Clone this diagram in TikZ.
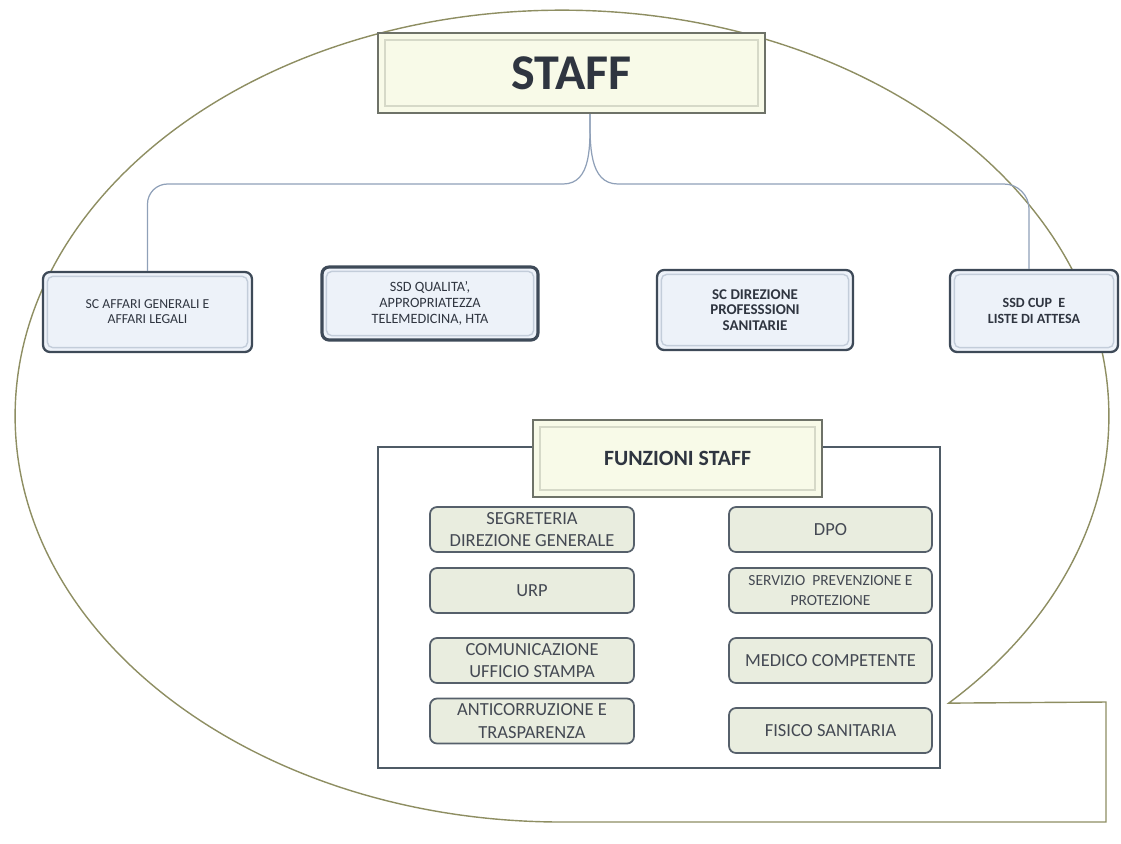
\documentclass[tikz,border=0pt]{standalone}
\usepackage{fontspec}
\setmainfont{Carlito}
\definecolor{balloon}{HTML}{8E8E62}
\definecolor{linkline}{HTML}{8FA0B8}
\definecolor{unitedge}{HTML}{3E4A58}
\definecolor{unitfill}{HTML}{EDF2F9}
\definecolor{unitinner}{HTML}{C3CDDA}
\definecolor{headfill}{HTML}{F8FAE8}
\definecolor{headedge}{HTML}{6E7268}
\definecolor{headinner}{HTML}{D6D9C8}
\definecolor{funcfill}{HTML}{E9EDDF}
\definecolor{funcedge}{HTML}{56606B}
\definecolor{frameedge}{HTML}{4F5B66}
\definecolor{textdark}{HTML}{2F3540}
\tikzset{
  headbox/.style={draw=headedge, line width=1.2pt, fill=headfill, inner sep=0pt,
    align=center, text=textdark,
    path picture={\draw[headinner, line width=0.8pt]
      ([shift={(4pt,-4pt)}]path picture bounding box.north west) rectangle
      ([shift={(-4pt,4pt)}]path picture bounding box.south east);}},
  unitbox/.style={draw=unitedge, line width=1.3pt, fill=unitfill, rounded corners=4pt,
    inner sep=0pt, align=center, text=textdark,
    font=\fontsize{7.8}{8.6}\selectfont,
    path picture={\draw[unitinner, line width=0.8pt, rounded corners=3pt]
      ([shift={(2.5pt,-2.5pt)}]path picture bounding box.north west) rectangle
      ([shift={(-2.5pt,2.5pt)}]path picture bounding box.south east);}},
  funcbox/.style={draw=funcedge, line width=1pt, fill=funcfill, rounded corners=4pt,
    minimum height=0.9cm, inner sep=0pt, align=center, text=textdark!90,
    font=\fontsize{10.5}{13}\selectfont},
  link/.style={draw=linkline, line width=0.7pt},
}
\begin{document}
\begin{tikzpicture}[x=0.02cm, y=-0.02cm]
      \useasboundingbox (0,0) rectangle (1121,843);
      %%%%%%%%%%%%%%%%%%%%%%%%%%%%%%%%%%%%%%%%%%%%%%%
      \draw[balloon, line width=0.8pt] (562,822)
            arc[start angle=270, end angle=-45, x radius=10.94cm, y radius=8.12cm]
            -- (1106,702) -- (1106,822) -- cycle;
      %%%%%%%%%%%%%%%%%%%%%%%%%%%%%%%%%%%%%%%%%%%%%%%
      \node[headbox, minimum width=7.74cm, minimum height=1.6cm,
            font=\fontsize{28.5}{30}\selectfont\bfseries] at (571.5,73) (staff) {STAFF};
      %%%%%%%%%%%%%%%%%%%%%%%%%%%%%%%%%%%%%%%%%%%%%%%
      \node[unitbox, minimum width=4.18cm, minimum height=1.6cm] at (147.5,312) (affari)
            {SC AFFARI GENERALI E\\AFFARI LEGALI};
      \node[unitbox, minimum width=4.32cm, minimum height=1.46cm, line width=1.8pt,
            font=\fontsize{8.1}{9}\selectfont] at (430,303.5) (qualita)
            {SSD QUALITA',\\APPROPRIATEZZA\\TELEMEDICINA, HTA};
      \node[unitbox, minimum width=3.92cm, minimum height=1.6cm,
            font=\fontsize{8.5}{9}\selectfont\bfseries] at (755,310) (direzione)
            {SC DIREZIONE\\PROFESSSIONI\\SANITARIE};
      \node[unitbox, minimum width=3.36cm, minimum height=1.64cm,
            font=\fontsize{8}{9}\selectfont\bfseries] at (1034,311) (cup)
            {SSD CUP\ \ E\\LISTE DI ATTESA};
      \draw[link] ([xshift=0.37cm]staff.south) to[out=-90,in=0] (563,184)
            [rounded corners=0.4cm] -| (affari.north);
      \draw[link] ([xshift=0.37cm]staff.south) to[out=-90,in=180] (618,184)
            [rounded corners=0.5cm] -| ([xshift=-0.1cm]cup.north);
      %%%%%%%%%%%%%%%%%%%%%%%%%%%%%%%%%%%%%%%%%%%%%%%
      \draw[frameedge, line width=1pt] (378,447) rectangle (940,768);
      \node[headbox, minimum width=5.78cm, minimum height=1.54cm,
            font=\fontsize{12.4}{13}\selectfont\bfseries] at (677.5,458.5) (funzioni) {FUNZIONI STAFF};
      %%%%%%%%%%%%%%%%%%%%%%%%%%%%%%%%%%%%%%%%%%%%%%%
      \node[funcbox, minimum width=4.08cm] at (532,529.5) (segreteria) {SEGRETERIA\\DIREZIONE GENERALE};
      \node[funcbox, minimum width=4.08cm] at (532,590.5) (urp) {URP};
      \node[funcbox, minimum width=4.08cm] at (532,660.5) (comunicazione) {COMUNICAZIONE\\UFFICIO STAMPA};
      \node[funcbox, minimum width=4.08cm] at (532,721) (anticorruzione) {ANTICORRUZIONE E\\TRASPARENZA};
      %%%%%%%%%%%%%%%%%%%%%%%%%%%%%%%%%%%%%%%%%%%%%%%
      \node[funcbox, minimum width=4.06cm] at (830.5,529.5) (dpo) {DPO};
      \node[funcbox, minimum width=4.06cm, font=\fontsize{8.8}{11.5}\selectfont] at (830.5,590.5) (prevenzione)
            {SERVIZIO\ \ PREVENZIONE E\\PROTEZIONE};
      \node[funcbox, minimum width=4.06cm] at (830.5,660.5) (medico) {MEDICO COMPETENTE};
      \node[funcbox, minimum width=4.06cm] at (830.5,730.5) (fisico) {FISICO SANITARIA};
      %%%%%%%%%%%%%%%%%%%%%%%%%%%%%%%%%%%%%%%%%%%%%%%
\end{tikzpicture}
\end{document}
